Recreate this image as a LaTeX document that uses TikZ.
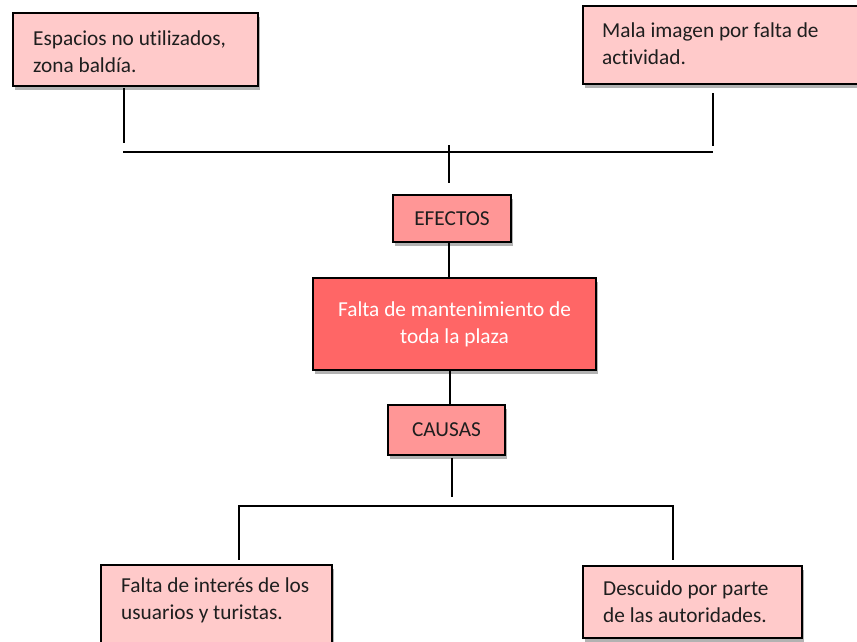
\documentclass[tikz,border=0pt]{standalone}
\usepackage{fontspec}
\setmainfont{Carlito}[Ligatures=NoCommon]
\usetikzlibrary{shadows}
\definecolor{pinkL}{HTML}{FFCACA}
\definecolor{pinkM}{HTML}{FF9696}
\definecolor{pinkD}{HTML}{FF6666}
\definecolor{txtd}{HTML}{1E1E1E}
\tikzset{
  shad/.style={drop shadow={shadow xshift=1.5pt,shadow yshift=-4pt,opacity=0.3,fill=black}},
  box/.style={draw=black,line width=2pt,shad,inner sep=0pt},
  lbox/.style={box,fill=pinkL},
  mbox/.style={box,fill=pinkM,font=\fontsize{21.3}{27}\selectfont,text=txtd},
  txt/.style={font=\fontsize{21.3}{27}\selectfont,text=txtd,align=left,inner sep=0pt},
  conn/.style={line width=2.4pt,draw=black}
}
\begin{document}
\begin{tikzpicture}[x=1pt,y=-1pt]
\useasboundingbox (0,0) rectangle (857,642);
\clip (0,0) rectangle (857,642);
% boxes
\node[lbox,minimum width=245pt,minimum height=73pt] (tl) at (135.5,49.5) {};
\node[txt,anchor=west] (tlt) at (33,52) {Espacios no utilizados,\\zona baldía.};
\node[lbox,minimum width=292pt,minimum height=78pt] (tr) at (729,45) {};
\node[txt,anchor=west] (trt) at (602,43.5) {Mala imagen por falta de\\actividad.};
\node[mbox,minimum width=118pt,minimum height=47pt] (ef) at (452,218.5) {EFECTOS};
\node[box,fill=pinkD,minimum width=283pt,minimum height=92pt,text=white,align=center,font=\fontsize{21.3}{27}\selectfont] (main) at (454.5,324) {Falta de mantenimiento de\\toda la plaza};
\node[mbox,minimum width=117pt,minimum height=50pt] (ca) at (446.5,430) {CAUSAS};
\node[lbox,minimum width=231pt,minimum height=95pt] (bl) at (216.5,612.5) {};
\node[txt,anchor=west] (blt) at (121,600.5) {Falta de interés de los\\usuarios y turistas.};
\node[lbox,minimum width=219pt,minimum height=72pt] (br) at (692.5,602) {};
\node[txt,anchor=west] (brt) at (603,601.5) {Descuido por parte\\de las autoridades.};
% junction coordinates
\coordinate (tlend) at (124,143);
\coordinate (trend) at (713,146);
\coordinate (hl) at (123,152);
\coordinate (hr) at (713,152);
\coordinate (ctop) at (449,145);
\coordinate (cbot) at (449,183);
\coordinate (cab) at (452,497);
\coordinate (bhl) at (239,506);
\coordinate (bhr) at (673,506);
\coordinate (blend) at (239,559);
\coordinate (brend) at (673,559);
% connectors
\draw[conn] ([yshift=-1pt]tl.south -| tlend) -- (tlend);
\draw[conn] ([yshift=-8pt]tr.south -| trend) -- (trend);
\draw[conn] (hl) -- (hr);
\draw[conn] (ctop) -- (cbot);
\draw[conn] (ef.south -| cbot) -- (main.north -| cbot);
\draw[conn] (main.south -| 450,0) -- (ca.north -| 450,0);
\draw[conn] ([yshift=-2pt]ca.south -| cab) -- (cab);
\draw[conn,line cap=rect] (blend) -- (bhl) -- (bhr) -- (brend);
\end{tikzpicture}
\end{document}
